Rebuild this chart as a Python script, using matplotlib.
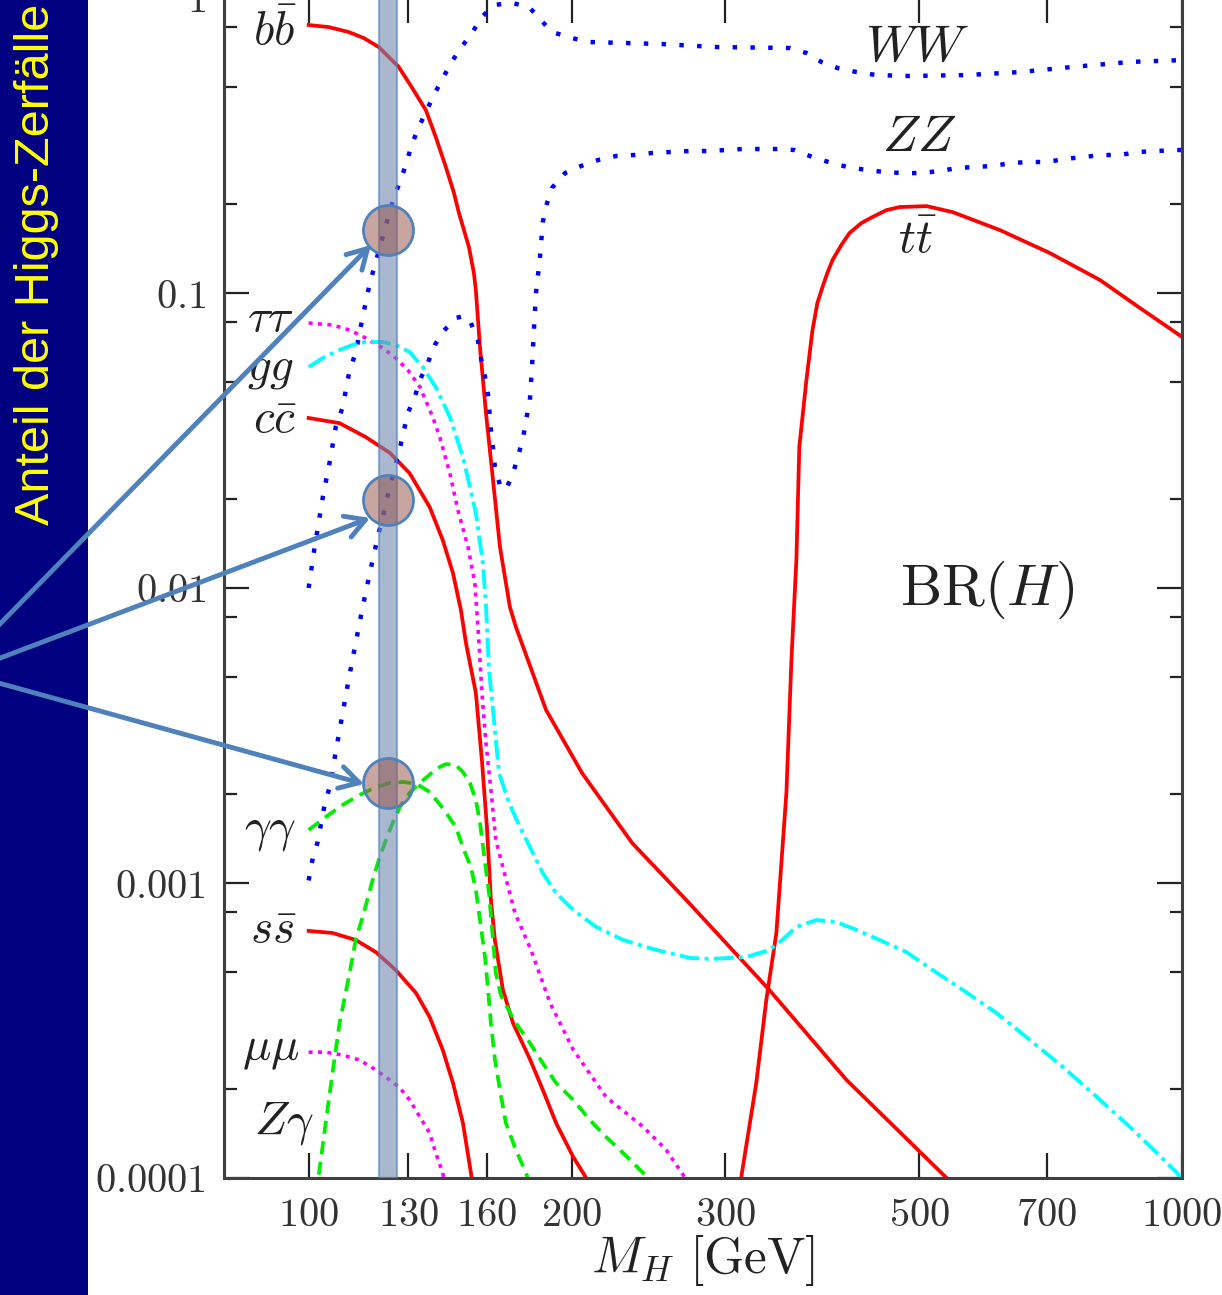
import matplotlib
matplotlib.use('Agg')
import matplotlib.pyplot as plt
from matplotlib.ticker import FixedLocator, NullLocator, NullFormatter
from matplotlib.patches import Rectangle

plt.rcParams['mathtext.fontset'] = 'cm'
plt.rcParams['font.family'] = ['DejaVu Serif']

# Higgs mass [GeV] and branching ratios
bb_m = [100, 105.4, 111.1, 115.6, 120.3, 126.8, 131.2, 136.2, 139.8, 143.6, 146.7, 148.6, 150.6,
        152.6, 154.6, 155.4, 157.1, 159.6, 162.6, 165.6, 170.0, 172.7, 187.0, 205.6, 234.6, 270.6,
        336.9, 412.9, 537.7, 556.4]
bb_br = [0.810, 0.797, 0.767, 0.732, 0.682, 0.584, 0.499, 0.417, 0.338, 0.267, 0.2183, 0.187, 0.1635,
         0.143, 0.1169, 0.102, 0.0656, 0.0392, 0.0232, 0.01377, 0.00862, 0.00738, 0.00386, 0.00236,
         0.001367, 0.000876, 0.000434, 0.000215, 0.0001, 0.0000875]

cc_m = [100, 108.5, 116.2, 123.9, 130.5, 137.6, 142.4, 146.3, 149.4, 151.4, 155.4, 157.9,
        160, 161.7, 163.4, 166.9, 171.4, 179.2, 185.4, 192.0, 200.9, 207.9, 212.3]
cc_br = [0.0377, 0.0362, 0.0325, 0.0287, 0.0245, 0.0188, 0.01455, 0.01124, 0.00842, 0.00651, 0.00441, 0.00261,
         0.00155, 0.000876, 0.000641, 0.000434, 0.000335, 0.000253, 0.000199, 0.0001536, 0.0001178, 0.0001, 0.0000897]

ss_m = [100, 106.5, 113.2, 119.4, 125.8, 132.7, 137.6, 142.4, 146.3, 150.2, 153.4, 154.6]
ss_br = [0.000688, 0.000677, 0.000641, 0.000583, 0.000507, 0.000424, 0.000351, 0.000272,
         0.00021, 0.0001536, 0.000104, 0.0000875]

tt_m = [310.5, 325.5, 334.2, 343.2, 352.4, 357.1, 361.8, 364.6, 371.5, 377.5, 382.4, 387.6,
        392.6, 398.0, 407.4, 416.2, 429.5, 442.2, 458.9, 475, 510, 546.3, 618.4, 705.8,
        805.4, 894.8, 1000]
tt_br = [0.0000875, 0.00021, 0.000401, 0.000677, 0.00202, 0.0057, 0.01245, 0.0301, 0.0507, 0.0749, 0.0925, 0.1048,
         0.1169, 0.1294, 0.1455, 0.1597, 0.1727, 0.181, 0.191, 0.1956, 0.197, 0.188, 0.1635, 0.1366,
         0.1107, 0.089, 0.071]

ww_m = [100, 101.6, 103.8, 105.7, 107.4, 109.4, 111.4, 113.2, 115.3, 117.5, 125.2, 127.5,
        129.5, 131.2, 133.7, 136.6, 139.1, 142.1, 145.5, 149.4, 153.8, 157.9, 163.0, 170.9,
        178.8, 184.5, 189.9, 200, 209.5, 229.8, 254.0, 292.9, 355.1, 371.5, 386.5, 403.3,
        424.0, 446.8, 487.6, 566.8, 652.1, 749.9, 871.7, 1000]
ww_br = [0.0100, 0.01377, 0.0203, 0.0267, 0.0351, 0.0411, 0.0548, 0.0626, 0.0829, 0.108, 0.2115, 0.2416,
         0.278, 0.3176, 0.3653, 0.417, 0.469, 0.527, 0.602, 0.677, 0.761, 0.862, 0.947, 0.962,
         0.932, 0.842, 0.767, 0.732, 0.709, 0.704, 0.698, 0.682, 0.677, 0.651, 0.607, 0.579,
         0.561, 0.548, 0.544, 0.548, 0.561, 0.584, 0.607, 0.616]

zz_m = [100, 101.1, 102.4, 104.3, 105.7, 107.4, 111.1, 115.3, 117.5, 120.0, 123.9, 127.2,
        129.9, 132.3, 134.1, 136.9, 139.5, 142.4, 147.4, 151.0, 153.4, 156.2, 157.5, 159.2,
        160.5, 161.7, 162.6, 163.4, 165.6, 168.2, 171.4, 173.6, 176.0, 177.4, 179.2, 180.2,
        181.1, 182.1, 184.0, 185.4, 187.5, 189.9, 196.6, 205.1, 214.5, 224.9, 235.9, 247.4,
        260.1, 272.8, 286.1, 300.8, 313.8, 328.1, 344.1, 359.9, 377.5, 396.8, 414.0, 435.2,
        456.4, 478.6, 503.2, 527.8, 553.4, 578.9, 607.3, 638.3, 669.4, 700.1, 734.1, 770.0,
        809.4, 849.0, 890.3, 935.9, 981.8, 1000]
zz_br = [0.00102, 0.001216, 0.001377, 0.00184, 0.002115, 0.00278, 0.00488, 0.00862, 0.01124, 0.0149, 0.022, 0.0298,
         0.0392, 0.0444, 0.0507, 0.0579, 0.0667, 0.0738, 0.0823, 0.0836, 0.0791, 0.0693, 0.0602, 0.0519,
         0.0451, 0.0343, 0.0298, 0.0257, 0.02234, 0.0215, 0.0245, 0.0278, 0.0322, 0.0371, 0.0434, 0.0561,
         0.0749, 0.1, 0.1314, 0.174, 0.2019, 0.227, 0.255, 0.2695, 0.2823, 0.2913, 0.2936, 0.2983,
         0.3006, 0.3029, 0.3029, 0.3053, 0.3077, 0.3077, 0.3077, 0.3053, 0.289, 0.276, 0.2674, 0.2612,
         0.2571, 0.255, 0.255, 0.2592, 0.2653, 0.2674, 0.2695, 0.276, 0.278, 0.278, 0.2846, 0.289,
         0.2936, 0.2936, 0.3006, 0.3029, 0.3053, 0.3053]

tau_m = [100, 106.5, 111.4, 116.2, 121.6, 125.8, 129.9, 134.1, 138.7, 141.3, 145.1, 148.2, 152.2, 155.0,
         156.7, 157.9, 159.6, 161.7, 163.8, 166.9, 172.3, 179.7, 189.0, 200.9, 219.1, 241.6, 256.7, 268.5, 272.8]
tau_br = [0.0791, 0.0779, 0.0749, 0.0704, 0.0651, 0.0602, 0.0548, 0.048, 0.038, 0.0325, 0.0245, 0.0184, 0.01377, 0.0104,
          0.00651, 0.00441, 0.00298, 0.00207, 0.0014, 0.00113, 0.000791, 0.000593, 0.000392, 0.000272, 0.000188,
          0.000149, 0.0001245, 0.0001023, 0.000091]

gg_m = [100, 103.8, 108.5, 112.3, 116.2, 121.6, 125.8, 130.5, 135.1, 139.8, 145.1, 150.2, 153.0,
        155.4, 158.3, 159.6, 160.9, 163.0, 165.2, 169.6, 174.1, 179.2, 185.4, 192.0, 200.9, 213.4,
        229.1, 250.0, 273.5, 289.9, 317.0, 336.9, 348.6, 361.8, 381.4, 402.2, 424.0, 450.5, 483.7,
        518.1, 561.0, 613.6, 669.4, 730.2, 799.0, 871.7, 935.9, 987, 1000]
gg_br = [0.0561, 0.0602, 0.0641, 0.0667, 0.0682, 0.0682, 0.0667, 0.0631, 0.0561, 0.048, 0.038, 0.0278, 0.022,
         0.01796, 0.01215, 0.00876, 0.00527, 0.00357, 0.00236, 0.001867, 0.001573, 0.001324, 0.00108, 0.000925,
         0.00081, 0.00071, 0.000641, 0.000593, 0.000557, 0.000553, 0.000561, 0.000593, 0.000641, 0.00071,
         0.000749, 0.000737, 0.000693, 0.000641, 0.000583, 0.000507, 0.000434, 0.000362, 0.000294, 0.000238,
         0.000188, 0.000149, 0.0001216, 0.000104, 0.0000984]

aa_m = [100, 104.6, 109.4, 114.4, 119.4, 123.9, 128.5, 133.0, 137.6, 142.1, 147.4, 150.6,
        153.4, 155.4, 157.5, 159.2, 160.5, 161.7, 163.4, 165.6, 168.2, 172.7, 177.4, 180.2]
aa_br = [0.001512, 0.001674, 0.00184, 0.001988, 0.002115, 0.002183, 0.0022, 0.002166, 0.002034, 0.00181, 0.00155, 0.001294,
         0.001133, 0.000947, 0.00071, 0.000561, 0.000434, 0.000335, 0.000253, 0.000199, 0.0001536, 0.0001245, 0.000104, 0.0000897]

za_m = [101.9, 102.9, 104.6, 106.5, 108.5, 111.4, 113.2, 115.3, 118.4, 120.6, 122.6, 124.8, 127.2,
        130.5, 134.1, 138.7, 141.3, 143.6, 147.4, 150.2, 153.0, 155.4, 157.1, 158.3, 159.6, 160.9,
        162.6, 163.8, 166.0, 168.2, 172.7, 179.2, 185.4, 192.0, 200.9, 210.0, 219.1, 229.1, 241.6, 245.4]
za_br = [0.0000875, 0.0001064, 0.0001536, 0.000227, 0.000335, 0.000495, 0.000641, 0.000767, 0.001024, 0.001225,
         0.0014, 0.0016, 0.00181, 0.00202, 0.002183, 0.002378, 0.002473, 0.00253, 0.002512, 0.002378, 0.002183,
         0.001912, 0.0016, 0.001345, 0.001107, 0.000925, 0.000641, 0.000495, 0.000417, 0.000386, 0.000335,
         0.000287, 0.000245, 0.00021, 0.000184, 0.000157, 0.0001377, 0.0001216, 0.000104, 0.0000947]

mumu_m = [100, 104.6, 109.4, 114.4, 118.4, 122.6, 127.2, 130.5, 134.1, 137.6, 139.8, 142.4, 143.6]
mumu_br = [0.000267, 0.000267, 0.000261, 0.000251, 0.000236, 0.00022, 0.000202, 0.000184,
           0.000161, 0.000142, 0.0001216, 0.000104, 0.000091]

# highlighted mass window and the three marked decays (WW, ZZ, gamma gamma)
band_lo, band_hi = 120.3, 126.2
mark_m = 123.2
mark_br = [0.1635, 0.01988, 0.002183]

x_ticks = [100, 130, 160, 200, 300, 500, 700, 1000]
y_ticks = [1e-4, 1e-3, 1e-2, 1e-1, 1]
y_ticklabels = ['0.0001', '0.001', '0.01', '0.1', '1']

W, H = 1222, 1295
fig = plt.figure(figsize=(W / 100, H / 100), dpi=100)
ax = fig.add_axes([224 / W, 117 / H, 958 / W, 1180 / H])
ax.set_xscale('log')
ax.set_yscale('log')
ax.set_xlim(80, 1000)
ax.set_ylim(1e-4, 1)

red, blue, mag, cyan, green = '#ff0000', '#0000ff', '#ff00ff', '#00ffff', '#00ee00'
ax.plot(bb_m, bb_br, color=red, lw=2.7)
ax.plot(cc_m, cc_br, color=red, lw=2.7)
ax.plot(ss_m, ss_br, color=red, lw=2.7)
ax.plot(tt_m, tt_br, color=red, lw=2.7)
ax.plot(ww_m, ww_br, color=blue, lw=3.2, dashes=(1, 3.0))
ax.plot(zz_m, zz_br, color=blue, lw=3.2, dashes=(1, 3.0))
ax.plot(tau_m, tau_br, color=mag, lw=2.6, dashes=(1.1, 1.5))
ax.plot(mumu_m, mumu_br, color=mag, lw=2.6, dashes=(1.1, 1.5))
ax.plot(gg_m, gg_br, color=cyan, lw=2.8, dashes=(5, 1.4, 1, 1.4))
ax.plot(aa_m, aa_br, color=green, lw=2.7, dashes=(3.5, 2))
ax.plot(za_m, za_br, color=green, lw=2.7, dashes=(3.5, 2))

# mass window and marked points
ax.axvspan(band_lo, band_hi, facecolor='#7088b0', edgecolor='#4f81bd', alpha=0.6, lw=1.5, zorder=5)
ax.plot([mark_m] * len(mark_br), mark_br, 'o', ms=36, mfc=(0.58, 0.3, 0.25, 0.5),
        mec='#4f81bd', mew=2, zorder=6, clip_on=False)

# curve labels
lab = dict(ha='center', va='center', fontsize=34, color='#222222')
ax.text(91.4, 0.767, r'$b\bar{b}$', **lab)
ax.text(90.4, 0.0823, r'$\tau\tau$', **lab)
ax.text(90.4, 0.0557, r'$gg$', **lab)
ax.text(91.4, 0.0371, r'$c\bar{c}$', **lab)
ax.text(90.4, 0.001512, r'$\gamma\gamma$', **lab)
ax.text(91.2, 0.000693, r'$s\bar{s}$', **lab)
ax.text(90.4, 0.000272, r'$\mu\mu$', **lab)
ax.text(93.6, 0.0001536, r'$Z\gamma$', **lab)
ax.text(498, 0.682, r'$WW$', fontsize=37, ha='center', va='center', color='#222222')
ax.text(500, 0.338, r'$ZZ$', fontsize=37, ha='center', va='center', color='#222222')
ax.text(498, 0.1512, r'$t\bar{t}$', **lab)
ax.text(599, 0.00985, r'$\mathrm{BR}(H)$', ha='center', va='center', fontsize=42, color='#222222')

# axes, ticks
ax.xaxis.set_major_locator(FixedLocator(x_ticks))
ax.xaxis.set_minor_locator(NullLocator())
ax.set_xticklabels(['$%d$' % v for v in x_ticks])
ax.yaxis.set_major_locator(FixedLocator(y_ticks))
ax.yaxis.set_minor_locator(FixedLocator([k * 10.0 ** e for e in range(-4, 0) for k in (2, 5, 8)]))
ax.yaxis.set_minor_formatter(NullFormatter())
ax.set_yticklabels(['$%s$' % s for s in y_ticklabels])
ax.tick_params(which='both', direction='in', top=True, right=True, color='#222222', labelcolor='#333333')
ax.tick_params(which='major', length=18, width=1.6, labelsize=29)
ax.tick_params(which='minor', length=9, width=1.6)
ax.tick_params(axis='y', pad=13)
ax.tick_params(axis='x', pad=14)
for s in ax.spines.values():
    s.set_color('#404040')
    s.set_linewidth(2.2)
ax.set_xlabel(r'$M_H\ [\mathrm{GeV}]$', fontsize=37, labelpad=-2, color='#222222')

# overlay in pixel coordinates: side strip and arrows
ov = fig.add_axes([0, 0, 1, 1])
ov.set_xlim(0, W)
ov.set_ylim(H, 0)
ov.axis('off')
ov.add_patch(Rectangle((0, 0), 88, H, facecolor='#000080', edgecolor='none'))
ov.text(37, 264, 'Anteil der Higgs-Zerfälle', rotation=90, color='#ffff00', fontsize=35,
        family=['Liberation Sans', 'DejaVu Sans'], ha='center', va='center')

arrows = [((-5, 629), (371, 245)), ((-5, 660), (370, 518)), ((-5, 682), (364, 784))]
for start, tip in arrows:
    ov.annotate('', xy=tip, xytext=start,
                arrowprops=dict(arrowstyle='->,head_length=0.7,head_width=0.4', color='#4f81bd',
                                lw=3.5, shrinkA=0, shrinkB=0, mutation_scale=20))

fig.savefig('out.png', dpi=100)
